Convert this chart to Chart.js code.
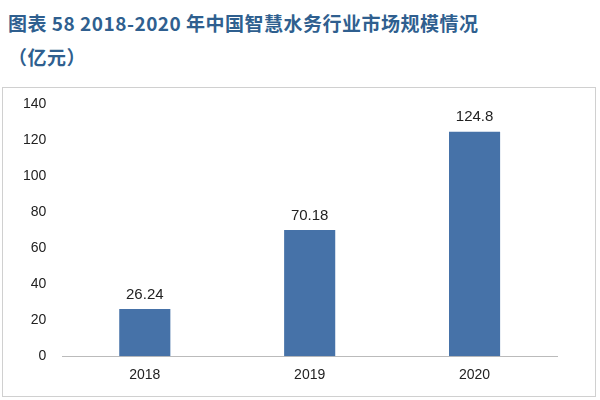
<!DOCTYPE html>
<html><head><meta charset="utf-8">
<script src="https://cdn.jsdelivr.net/npm/chart.js"></script>
<style>
body{margin:0;width:600px;height:400px;background:#fff;overflow:hidden;font-family:"Noto Sans CJK SC",sans-serif}
#t{position:absolute;left:8px;top:6px;color:#2f5f8f;font-weight:bold;font-size:19px;line-height:34px;letter-spacing:0.5px}
#box{position:absolute;left:2px;top:87px;width:594px;height:310px;border:1px solid #d0d0d0;box-sizing:border-box}
</style></head><body>
<div id="t">图表 58 2018-2020 年中国智慧水务行业市场规模情况<br>（亿元）</div>
<div id="box"><canvas id="c" width="592" height="308"></canvas></div>
<script>
const categories=["2018","2019","2020"];
const values=[26.24,70.18,124.8];
const labels=["26.24","70.18","124.8"];
const valueLabels={id:'vl',afterDatasetsDraw(ch){const ctx=ch.ctx;const m=ch.getDatasetMeta(0);ctx.save();ctx.font='15px "Liberation Sans",Arial';ctx.fillStyle='#222';ctx.textAlign='center';ctx.textBaseline='bottom';m.data.forEach((b,i)=>ctx.fillText(labels[i],b.x,b.y-7));ctx.restore();}};
new Chart(document.getElementById('c'),{type:'bar',data:{labels:categories,datasets:[{data:values,backgroundColor:'#4672a8',barPercentage:0.31,categoryPercentage:1}]},
options:{responsive:false,animation:false,plugins:{legend:{display:false},tooltip:{enabled:false}},
layout:{padding:{left:12,right:38,top:1,bottom:9}},
scales:{x:{grid:{display:false},border:{color:'#bbb'},ticks:{color:'#222',font:{size:14,family:'"Liberation Sans",Arial'}}},
y:{min:0,max:140,ticks:{stepSize:20,color:'#222',padding:8,font:{size:14,family:'"Liberation Sans",Arial'}},grid:{display:false},border:{display:false}}}},plugins:[valueLabels]});
</script></body></html>
